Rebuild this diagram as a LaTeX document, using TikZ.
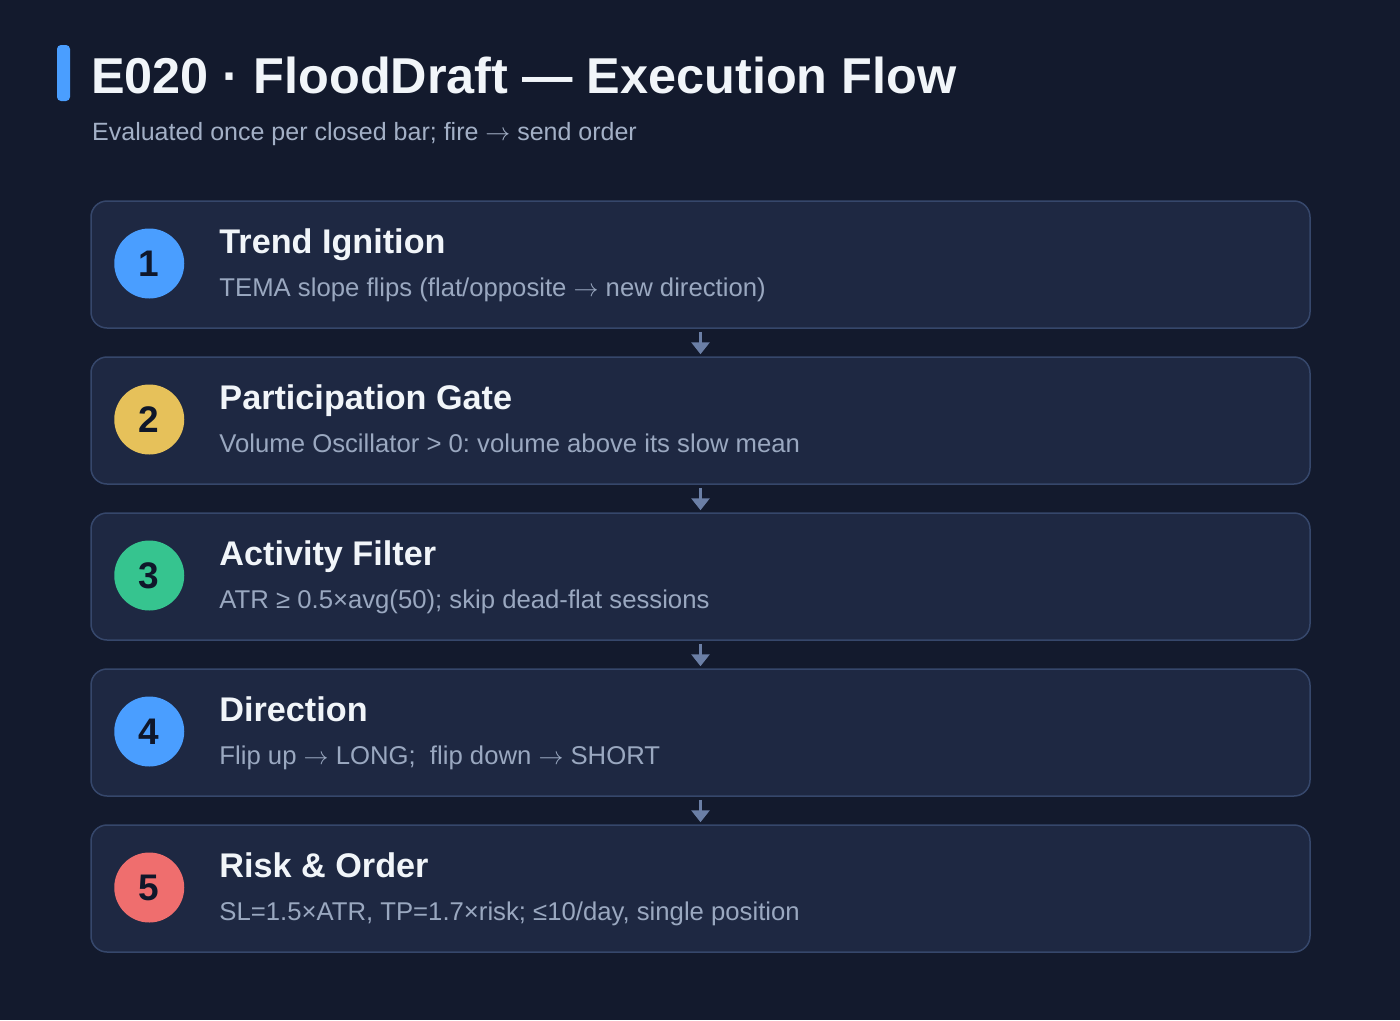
\documentclass[tikz,border=0pt]{standalone}
\usepackage{fontspec}
\setmainfont{Liberation Sans}
\usepackage{tikz}
\usetikzlibrary{positioning,arrows.meta}
\frenchspacing

\definecolor{pagebg}{HTML}{131A2D}
\definecolor{cardfill}{HTML}{1E2842}
\definecolor{cardline}{HTML}{36476B}
\definecolor{titlewhite}{HTML}{F1F5F9}
\definecolor{subgray}{HTML}{A3B0C6}
\definecolor{descgray}{HTML}{9AA8C0}
\definecolor{accentblue}{HTML}{4A9EFF}
\definecolor{badgeyellow}{HTML}{E6C15A}
\definecolor{badgegreen}{HTML}{36C48F}
\definecolor{badgered}{HTML}{EF6E6E}
\definecolor{badgetext}{HTML}{0F172A}
\definecolor{flowline}{HTML}{6B7FA6}

\newcommand{\toarrow}{$\rightarrow$}

\begin{document}
\begin{tikzpicture}[
      x=1pt, y=-1pt,
      card/.style={
            rectangle, rounded corners=16pt,
            draw=cardline, line width=1.5pt, fill=cardfill,
            minimum width=1219pt, minimum height=127pt, inner sep=0pt
        },
      badge/.style={
            circle, minimum size=70pt, inner sep=0pt,
            text=badgetext, font=\bfseries\fontsize{37}{37}\selectfont
        },
      head/.style={
            anchor=base west, inner sep=0pt, text=titlewhite,
            font=\bfseries\fontsize{34.2}{34}\selectfont
        },
      desc/.style={
            anchor=base west, inner sep=0pt, text=descgray,
            font=\fontsize{25.7}{26}\selectfont
        },
      flow/.style={
            draw=flowline, line width=3pt,
            -{Triangle[width=18pt,length=12pt]},
            shorten <=3pt, shorten >=2pt
        }
      ]
    \fill[pagebg] (0,0) rectangle (1400,1020);
    \useasboundingbox (0,0) rectangle (1400,1020);

    % heading
    \node[fill=accentblue, rounded corners=4pt, minimum width=13pt,
          minimum height=56pt, inner sep=0pt] (bar) at (63.5,73) {};
    \node[anchor=base west, inner sep=0pt, text=titlewhite,
          font=\bfseries\fontsize{50.4}{50}\selectfont] (title) at (91,93)
          {E020 · FloodDraft — Execution Flow};
    \node[anchor=base west, inner sep=0pt, text=subgray,
          font=\fontsize{25}{25}\selectfont] (subtitle) at (92,140)
          {Evaluated once per closed bar; fire \toarrow\ send order};

    % cards
    \node[card] (c1) at (700.5,264.5) {};
    \node[card, below=27.5pt of c1] (c2) {};
    \node[card, below=27.5pt of c2] (c3) {};
    \node[card, below=27.5pt of c3] (c4) {};
    \node[card, below=27.5pt of c4] (c5) {};

    \node[badge, fill=accentblue] (n1) at ([xshift=59pt,yshift=1pt]c1.west) {1};
    \node[badge, fill=badgeyellow] (n2) at ([xshift=59pt,yshift=1pt]c2.west) {2};
    \node[badge, fill=badgegreen] (n3) at ([xshift=59pt,yshift=1pt]c3.west) {3};
    \node[badge, fill=accentblue] (n4) at ([xshift=59pt,yshift=1pt]c4.west) {4};
    \node[badge, fill=badgered] (n5) at ([xshift=59pt,yshift=1pt]c5.west) {5};

    \node[head] (h1) at ([xshift=129pt,yshift=11pt]c1.west) {Trend Ignition};
    \node[desc] (d1) at ([xshift=129pt,yshift=-31.5pt]c1.west)
          {TEMA slope flips (flat/opposite \toarrow\ new direction)};
    \node[head] (h2) at ([xshift=129pt,yshift=11pt]c2.west) {Participation Gate};
    \node[desc] (d2) at ([xshift=129pt,yshift=-31.5pt]c2.west)
          {Volume Oscillator > 0: volume above its slow mean};
    \node[head] (h3) at ([xshift=129pt,yshift=11pt]c3.west) {Activity Filter};
    \node[desc] (d3) at ([xshift=129pt,yshift=-31.5pt]c3.west)
          {ATR ≥ 0.5×avg(50); skip dead-flat sessions};
    \node[head] (h4) at ([xshift=129pt,yshift=11pt]c4.west) {Direction};
    \node[desc] (d4) at ([xshift=129pt,yshift=-31.5pt]c4.west)
          {Flip up \toarrow\ LONG;\ \ flip down \toarrow\ SHORT};
    \node[head] (h5) at ([xshift=129pt,yshift=11pt]c5.west) {Risk \& Order};
    \node[desc] (d5) at ([xshift=129pt,yshift=-31.5pt]c5.west)
          {SL=1.5×ATR, TP=1.7×risk; ≤10/day, single position};

    % flow arrows
    \draw[flow] (c1) -- (c2);
    \draw[flow] (c2) -- (c3);
    \draw[flow] (c3) -- (c4);
    \draw[flow] (c4) -- (c5);
  \end{tikzpicture}
\end{document}
